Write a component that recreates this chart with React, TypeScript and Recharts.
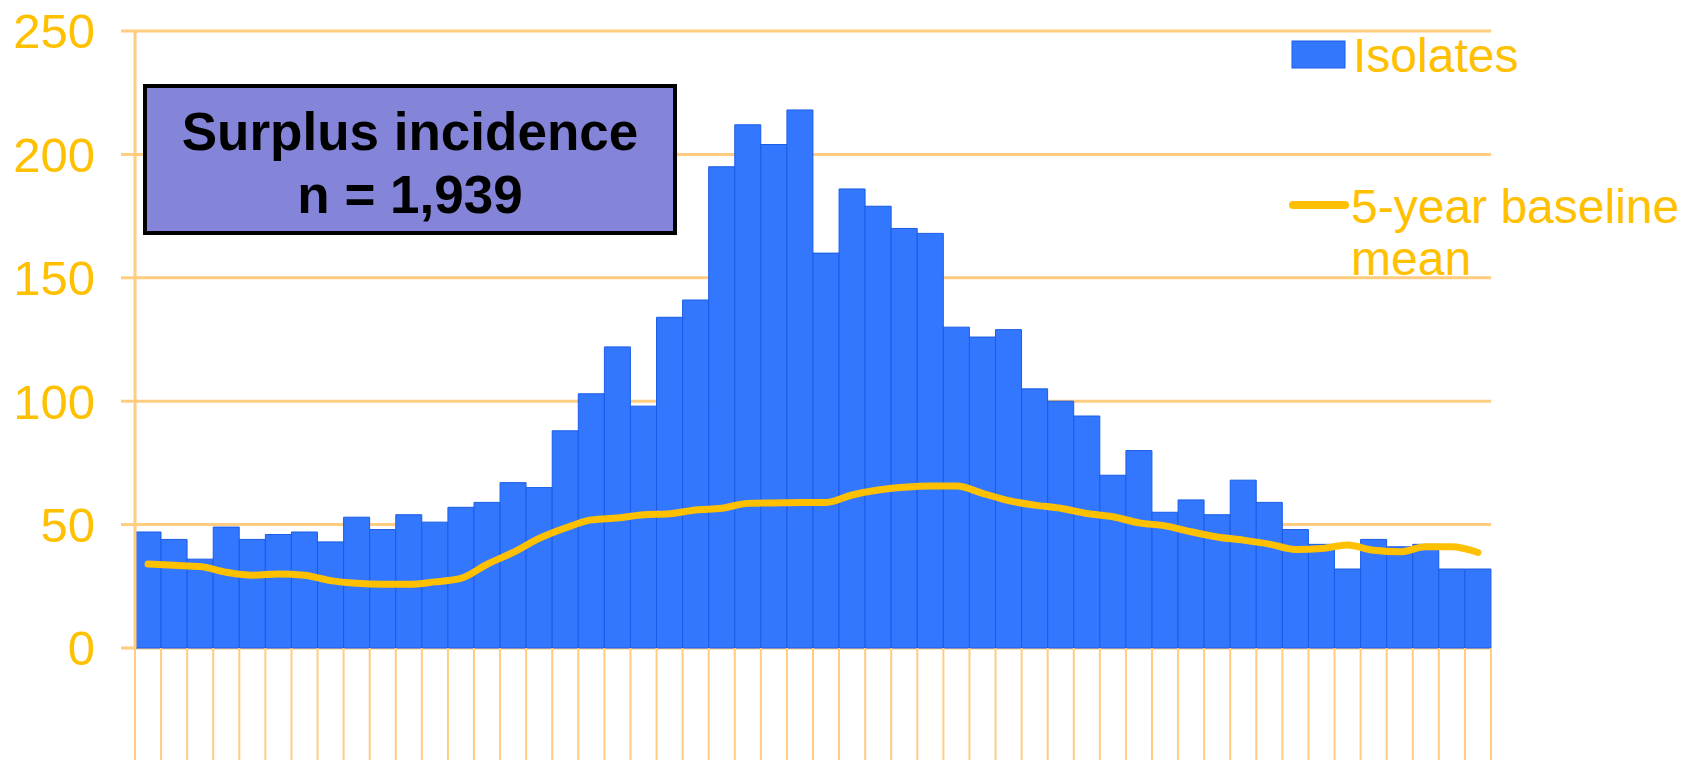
import React from 'react'
import { ComposedChart, Bar, Line, XAxis, YAxis, CartesianGrid, Legend } from 'recharts'

// weekly isolates (52 weeks) and the 5-year baseline mean
const weeks = Array.from({ length: 52 }, (_, i) => `W${i + 1}`)
const isolates = [
  47, 44, 36, 49, 44, 46, 47, 43, 53, 48, 54, 51, 57, 59, 67, 65,
  88, 103, 122, 98, 134, 141, 195, 212, 204, 218, 160, 186, 179, 170,
  168, 130, 126, 129, 105, 100, 94, 70, 80, 55, 60, 54, 68, 59, 48,
  42, 32, 44, 41, 42, 32, 32,
]
const baseline = [
  34, 33.5, 33, 30.7, 29.5, 30, 29.5, 27.3, 26.2, 25.8, 25.8, 26.8, 28.2,
  33.9, 38.7, 44.4, 48.6, 51.9, 52.7, 54, 54.4, 55.9, 56.6, 58.6, 58.8,
  59, 59, 62, 64, 65.1, 65.6, 65.6, 62.7, 59.7, 57.9, 56.6, 54.5, 53.2,
  50.7, 49.5, 47.1, 45, 43.7, 42.1, 39.9, 40.3, 41.7, 39.6, 39, 41, 41, 38.7,
]
const yTicks = [0, 50, 100, 150, 200, 250]

const data = weeks.map((w, i) => ({ week: w, isolates: isolates[i], baseline: baseline[i] }))

const GOLD = '#FFC000'
const GRID = '#FFCC80'
const BLUE = '#3377FF'
const BLUE_EDGE = '#1A5CE6'
const FONT = '"Liberation Sans", Arial, sans-serif'

const PLOT_W = 1356
const BAND = PLOT_W / weeks.length

// tick marks at the bar boundaries, running down below the zero line
const BoundaryTick = (props: any) => {
  const { x, y, index } = props
  const left = x - BAND / 2
  return (
    <g>
      <line x1={left} x2={left} y1={y} y2={y + 112} stroke={GRID} strokeWidth={2} />
      {index === weeks.length - 1 && (
        <line x1={x + BAND / 2} x2={x + BAND / 2} y1={y} y2={y + 112} stroke={GRID} strokeWidth={2} />
      )}
    </g>
  )
}

const Overlay = () => (
  <svg width={1690} height={300} style={{ position: 'absolute', left: 0, top: 0, pointerEvents: 'none' }}>
    {/* annotation box */}
    <rect x={145} y={86} width={530} height={147} fill="#8484D8" stroke="#000" strokeWidth={4} />
    <text x={410} y={150} textAnchor="middle" fontFamily={FONT} fontWeight="bold" fontSize={53} fill="#000">
      Surplus incidence
    </text>
    <text x={410} y={213} textAnchor="middle" fontFamily={FONT} fontWeight="bold" fontSize={53} fill="#000">
      n = 1,939
    </text>
    {/* legend */}
    <rect x={1292} y={41} width={53} height={27} fill={BLUE} stroke={BLUE_EDGE} strokeWidth={1} />
    <text x={1353} y={72} fontFamily={FONT} fontSize={48} fill={GOLD}>Isolates</text>
    <line x1={1293} x2={1345} y1={205} y2={205} stroke={GOLD} strokeWidth={8} strokeLinecap="round" />
    <text x={1351} y={223} fontFamily={FONT} fontSize={48} fill={GOLD}>5-year baseline</text>
    <text x={1351} y={275} fontFamily={FONT} fontSize={48} fill={GOLD}>mean</text>
  </svg>
)

export default function App() {
  return (
    <div style={{ position: 'absolute', left: 0, top: 0, width: 1690, height: 763, background: '#fff' }}>
      <ComposedChart
        width={1690}
        height={763}
        data={data}
        margin={{ top: 31, right: 199, left: 0, bottom: 0 }}
        barCategoryGap={0}
        barGap={0}
      >
        <CartesianGrid vertical={false} stroke={GRID} strokeWidth={3} />
        <XAxis
          dataKey="week"
          height={115}
          axisLine={false}
          tickLine={false}
          tickSize={0}
          tickMargin={0}
          interval={0}
          tick={<BoundaryTick />}
        />
        <YAxis
          width={135}
          domain={[0, 250]}
          ticks={yTicks}
          interval={0}
          tickSize={14}
          tickMargin={26}
          axisLine={{ stroke: GRID, strokeWidth: 3 }}
          tickLine={{ stroke: GRID, strokeWidth: 3 }}
          tick={{ fill: GOLD, fontSize: 49, fontFamily: FONT }}
        />
        <Bar dataKey="isolates" fill={BLUE} stroke={BLUE_EDGE} strokeWidth={1} isAnimationActive={false} />
        <Line
          dataKey="baseline"
          type="monotone"
          stroke={GOLD}
          strokeWidth={7}
          strokeLinecap="round"
          dot={false}
          isAnimationActive={false}
        />
        <Legend content={() => <Overlay />} wrapperStyle={{ position: 'absolute', left: 0, top: 0, width: 1690, height: 0 }} />
      </ComposedChart>
    </div>
  )
}
